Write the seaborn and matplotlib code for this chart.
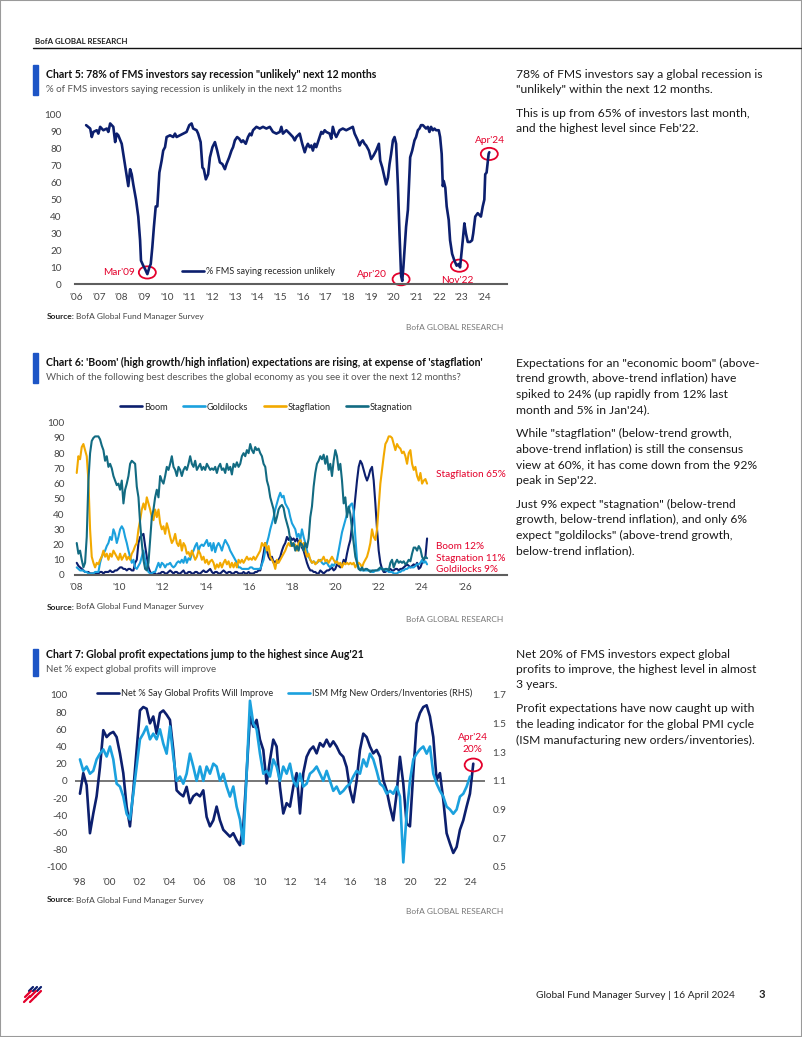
# BofA FMS page recreation: three line charts with commentary column
import numpy as np
import pandas as pd
import matplotlib
matplotlib.use("Agg")
import matplotlib.pyplot as plt
import seaborn as sns
from matplotlib import font_manager
from matplotlib.lines import Line2D
from matplotlib.patches import Ellipse, Rectangle

# ---------------- Chart 5 data: % FMS saying recession unlikely ----------------
rec_dates = [
    2006.44, 2006.62, 2006.69, 2006.76, 2006.91, 2006.98, 2007.06, 2007.20, 2007.35, 2007.42,
    2007.50, 2007.57, 2007.64, 2007.72, 2007.79, 2007.86, 2008.01, 2008.08, 2008.20, 2008.30,
    2008.38, 2008.45, 2008.52, 2008.64, 2008.74, 2008.82, 2008.86, 2008.96, 2009.04, 2009.14,
    2009.23, 2009.29, 2009.36, 2009.43, 2009.51, 2009.58, 2009.67, 2009.77, 2009.84, 2009.92,
    2009.99, 2010.14, 2010.28, 2010.36, 2010.43, 2010.58, 2010.72, 2010.87, 2010.99, 2011.09,
    2011.16, 2011.31, 2011.38, 2011.49, 2011.57, 2011.63, 2011.72, 2011.82, 2011.90, 2012.01,
    2012.12, 2012.22, 2012.34, 2012.45, 2012.56, 2012.63, 2012.75, 2012.85, 2012.92, 2013.00,
    2013.10, 2013.19, 2013.29, 2013.36, 2013.48, 2013.58, 2013.66, 2013.73, 2013.80, 2013.95,
    2014.10, 2014.24, 2014.39, 2014.54, 2014.68, 2014.83, 2014.98, 2015.05, 2015.12, 2015.27,
    2015.42, 2015.56, 2015.64, 2015.71, 2015.86, 2015.97, 2016.08, 2016.15, 2016.22, 2016.30,
    2016.37, 2016.44, 2016.52, 2016.59, 2016.74, 2016.81, 2016.88, 2016.96, 2017.03, 2017.18,
    2017.25, 2017.32, 2017.40, 2017.47, 2017.62, 2017.76, 2017.91, 2018.06, 2018.20, 2018.28,
    2018.35, 2018.42, 2018.50, 2018.57, 2018.64, 2018.72, 2018.79, 2018.91, 2019.01, 2019.11,
    2019.23, 2019.35, 2019.41, 2019.50, 2019.60, 2019.67, 2019.75, 2019.82, 2019.89, 2019.97,
    2020.04, 2020.11, 2020.19, 2020.26, 2020.33, 2020.38, 2020.43, 2020.55, 2020.63, 2020.73,
    2020.82, 2020.92, 2020.99, 2021.07, 2021.14, 2021.21, 2021.29, 2021.36, 2021.43, 2021.51,
    2021.58, 2021.65, 2021.73, 2021.80, 2021.87, 2021.99, 2022.05, 2022.12, 2022.17, 2022.21,
    2022.28, 2022.34, 2022.43, 2022.49, 2022.58, 2022.68, 2022.78, 2022.87, 2022.93, 2022.99,
    2023.05, 2023.12, 2023.19, 2023.27, 2023.37, 2023.46, 2023.51, 2023.60, 2023.71, 2023.78,
    2023.85, 2023.93, 2024.00, 2024.04, 2024.10, 2024.19, 2024.22,
]
rec_values = [
    94, 92, 87, 90, 91, 89, 93, 91, 92, 90,
    95, 94, 93, 84, 89, 88, 83, 77, 67, 58,
    68, 65, 59, 50, 40, 26, 14, 11, 9, 6,
    10, 12, 22, 34, 46, 46, 66, 73, 79, 81,
    87, 88, 87, 89, 87, 88, 89, 90, 94, 95,
    92, 91, 89, 84, 69, 68, 62, 65, 75, 81,
    84, 79, 72, 71, 68, 71, 75, 79, 81, 85,
    87, 86, 84, 85, 83, 87, 89, 88, 91, 93,
    92, 93, 92, 93, 90, 89, 90, 93, 89, 91,
    89, 87, 85, 87, 89, 83, 78, 81, 83, 81,
    82, 79, 83, 81, 87, 90, 89, 91, 90, 89,
    86, 93, 89, 87, 91, 92, 91, 92, 93, 89,
    87, 85, 82, 84, 85, 83, 82, 79, 74, 76,
    79, 83, 73, 69, 63, 59, 63, 71, 77, 85,
    87, 83, 58, 30, 5, 2, 10, 34, 44, 75,
    79, 85, 87, 91, 92, 94, 94, 93, 92, 93,
    90, 93, 91, 92, 91, 91, 87, 77, 58, 61,
    57, 46, 38, 26, 18, 14, 11, 12, 10, 18,
    26, 36, 30, 25, 25, 26, 30, 40, 42, 41,
    40, 46, 50, 65, 66, 77, 78,
]
# label, circle date, circle value, label date, label value, alignment
rec_marks = [
    ("Mar'09", 2009.14, 7, 2008.58, 7, "right"),
    ("Apr'20", 2020.33, 3, 2019.70, 6, "right"),
    ("Nov'22", 2022.90, 11, 2022.80, 2.5, "center"),
    ("Apr'24", 2024.22, 77, 2024.26, 85, "center"),
]

# ---------------- Chart 6 data: macro regime expectations (Jan'08 - Apr'24) ----------------
mix_start, mix_end = 2008.03, 2024.25
boom = [
    8, 6, 5, 4, 3, 2, 2, 2, 1, 1,
    1, 1, 1, 1, 2, 2, 1, 2, 2, 2,
    3, 2, 2, 3, 3, 4, 5, 5, 4, 4,
    3, 4, 4, 3, 3, 8, 10, 21, 25, 26,
    27, 19, 12, 5, 2, 1, 1, 1, 0, 1,
    1, 2, 2, 1, 1, 2, 3, 2, 1, 2,
    2, 1, 1, 2, 3, 1, 1, 2, 2, 1,
    1, 2, 2, 1, 1, 2, 3, 2, 2, 3,
    4, 2, 1, 2, 2, 1, 1, 2, 3, 2,
    1, 2, 2, 1, 1, 2, 2, 1, 1, 1,
    2, 1, 1, 2, 1, 1, 1, 2, 2, 3,
    3, 8, 14, 21, 16, 12, 10, 12, 8, 9,
    8, 10, 12, 16, 19, 21, 25, 23, 25, 23,
    24, 22, 24, 21, 23, 18, 16, 12, 8, 5,
    3, 3, 2, 2, 1, 1, 3, 2, 1, 2,
    3, 3, 4, 5, 3, 4, 7, 6, 5, 6,
    10, 8, 14, 19, 23, 32, 40, 51, 62, 71,
    75, 73, 69, 65, 62, 65, 69, 71, 62, 47,
    30, 16, 8, 4, 2, 2, 3, 3, 4, 3,
    3, 4, 4, 3, 4, 4, 5, 6, 7, 6,
    5, 6, 7, 6, 8, 4, 5, 8, 10, 12, 24,
]
goldilocks = [
    5, 4, 3, 3, 3, 2, 2, 1, 1, 1,
    1, 2, 2, 2, 8, 12, 14, 16, 19, 21,
    25, 23, 30, 27, 21, 25, 30, 32, 30, 25,
    21, 16, 12, 8, 10, 5, 4, 6, 8, 12,
    16, 10, 5, 2, 1, 1, 2, 2, 5, 8,
    5, 8, 7, 5, 7, 7, 8, 6, 5, 6,
    8, 9, 8, 10, 8, 12, 8, 11, 10, 14,
    16, 19, 21, 16, 19, 20, 19, 21, 23, 19,
    21, 16, 21, 15, 19, 21, 19, 16, 20, 23,
    21, 19, 16, 14, 12, 10, 8, 5, 5, 4,
    4, 4, 4, 4, 5, 5, 4, 4, 4, 4,
    4, 7, 10, 16, 21, 25, 30, 34, 38, 43,
    47, 51, 54, 51, 52, 47, 45, 43, 38, 34,
    32, 30, 25, 27, 23, 30, 25, 21, 16, 12,
    10, 8, 9, 8, 8, 9, 10, 8, 7, 8,
    8, 6, 5, 7, 6, 8, 10, 16, 22, 28,
    32, 36, 40, 43, 46, 47, 42, 25, 10, 4,
    4, 3, 3, 3, 3, 3, 3, 2, 2, 3,
    3, 3, 4, 4, 4, 3, 3, 2, 2, 2,
    1, 1, 1, 2, 2, 3, 3, 4, 4, 5,
    5, 5, 5, 6, 7, 7, 8, 10, 8, 9, 7,
]
stagflation = [
    67, 78, 76, 84, 86, 82, 78, 62, 30, 12,
    8, 5, 8, 7, 10, 12, 16, 12, 14, 10,
    14, 12, 16, 14, 12, 10, 14, 10, 12, 14,
    10, 12, 10, 14, 16, 19, 21, 30, 36, 43,
    47, 43, 51, 47, 43, 38, 36, 43, 38, 43,
    34, 30, 32, 27, 34, 30, 25, 21, 23, 27,
    21, 19, 23, 16, 21, 19, 14, 15, 12, 16,
    13, 10, 12, 16, 14, 10, 12, 8, 10, 7,
    9, 10, 8, 4, 7, 5, 8, 5, 8, 10,
    7, 9, 5, 8, 5, 8, 5, 10, 8, 10,
    8, 10, 12, 10, 11, 10, 12, 10, 12, 14,
    16, 21, 19, 21, 16, 19, 12, 10, 8, 4,
    10, 8, 10, 12, 14, 16, 19, 21, 19, 21,
    19, 20, 16, 21, 23, 19, 21, 16, 12, 14,
    10, 8, 9, 7, 8, 10, 9, 10, 12, 9,
    10, 8, 10, 12, 10, 8, 9, 7, 8, 5,
    8, 7, 8, 7, 8, 7, 8, 5, 7, 8,
    7, 5, 8, 10, 12, 16, 21, 30, 25, 23,
    30, 45, 60, 69, 78, 86, 88, 91, 91, 90,
    86, 82, 86, 84, 83, 80, 81, 78, 73, 80,
    82, 73, 69, 71, 65, 62, 67, 60, 62, 63, 60,
]
stagnation = [
    21, 14, 16, 10, 5, 8, 25, 62, 80, 88,
    90, 91, 91, 91, 89, 85, 82, 75, 78, 71,
    73, 70, 65, 62, 59, 60, 56, 62, 47, 56,
    60, 65, 73, 75, 74, 73, 58, 51, 34, 21,
    10, 4, 3, 8, 23, 38, 43, 51, 56, 51,
    65, 62, 60, 65, 71, 69, 73, 78, 71, 69,
    65, 71, 69, 65, 69, 71, 69, 73, 78, 73,
    71, 75, 69, 71, 73, 69, 71, 69, 73, 71,
    69, 70, 69, 71, 67, 71, 73, 69, 70, 67,
    73, 69, 71, 66, 73, 71, 74, 71, 73, 78,
    80, 78, 82, 80, 86, 82, 80, 84, 82, 83,
    80, 78, 73, 71, 62, 58, 51, 47, 43, 34,
    38, 43, 45, 46, 44, 38, 34, 30, 23, 19,
    21, 16, 19, 16, 21, 20, 16, 21, 18, 24,
    38, 45, 58, 67, 73, 75, 78, 76, 79, 73,
    78, 69, 73, 65, 75, 82, 78, 69, 73, 62,
    47, 51, 38, 45, 40, 30, 21, 12, 8, 4,
    3, 5, 3, 4, 4, 3, 2, 3, 3, 3,
    3, 4, 5, 4, 3, 4, 4, 3, 8, 10,
    5, 8, 10, 8, 9, 8, 9, 7, 8, 10,
    9, 14, 18, 18, 16, 19, 17, 12, 10, 12, 11,
]
mix_labels = [("Stagflation 65%", 66), ("Boom 12%", 19), ("Stagnation 11%", 11), ("Goldilocks 9%", 3.5)]

# ---------------- Chart 7 data: net % profits improve vs ISM ratio ----------------
profit_start, profit_end = 1998.04, 2024.22
net_profits = [
    -15, 9, -5, -61, -38, -18, 16, 59, 51, 55,
    57, 51, 32, 9, -30, -53, -11, 36, 82, 86,
    84, 67, 75, 55, 79, 82, 77, 71, 36, -11,
    -15, -18, -7, -26, -18, -15, -18, -11, -42, -53,
    -46, -30, -46, -57, -61, -65, -61, -69, -75, -53,
    9, 75, 63, 71, 48, 36, -3, 24, 48, 40,
    -7, -38, -26, -30, -7, 9, -38, 9, 28, 36,
    40, 32, 44, 40, 48, 40, 46, 40, 32, 28,
    16, -10, -25, 0, 36, 55, 51, 40, 32, 36,
    28, 1, -11, -30, -46, -15, 28, -3, -50, -53,
    9, 67, 79, 86, 88, 75, 51, 1, 9, -22,
    -61, -73, -84, -77, -57, -46, -30, -15, 20,
]
ism_start, ism_end = 1998.04, 2024.0
ism_ratio = [
    1.25, 1.17, 1.20, 1.15, 1.17, 1.25, 1.29, 1.32, 1.27, 1.34,
    1.25, 1.08, 1.06, 0.99, 0.87, 0.83, 1.01, 1.20, 1.39, 1.43,
    1.48, 1.39, 1.43, 1.39, 1.46, 1.36, 1.29, 1.48, 1.27, 1.10,
    1.13, 1.08, 1.15, 1.29, 1.20, 1.10, 1.20, 1.10, 1.20, 1.15,
    1.22, 1.20, 1.10, 1.15, 1.06, 0.99, 1.06, 0.92, 0.83, 0.66,
    1.15, 1.66, 1.50, 1.46, 1.29, 1.15, 1.17, 1.13, 1.25, 1.20,
    1.10, 1.20, 1.15, 1.22, 1.10, 1.06, 1.15, 1.06, 1.08, 1.15,
    1.17, 1.20, 1.15, 1.10, 1.17, 1.10, 1.03, 1.06, 1.01, 1.03,
    1.06, 1.08, 1.13, 1.17, 1.15, 1.25, 1.20, 1.29, 1.25, 1.17,
    1.08, 1.06, 1.01, 1.03, 1.01, 1.06, 0.99, 0.53, 0.87, 1.10,
    1.25, 1.29, 1.32, 1.34, 1.29, 1.34, 1.15, 1.08, 1.03, 0.99,
    0.92, 0.90, 0.87, 0.90, 0.99, 1.01, 1.06, 1.13,
]

# ---------------- page text ----------------
notes5 = [
    ['78% of FMS investors say a global recession is', '"unlikely" within the next 12 months.'],
    ['This is up from 65% of investors last month,', "and the highest level since Feb'22."],
]
notes6 = [
    ['Expectations for an "economic boom" (above-', 'trend growth, above-trend inflation) have',
     'spiked to 24% (up rapidly from 12% last', "month and 5% in Jan'24)."],
    ['While "stagflation" (below-trend growth,', 'above-trend inflation) is still the consensus',
     'view at 60%, it has come down from the 92%', "peak in Sep'22."],
    ['Just 9% expect "stagnation" (below-trend', 'growth, below-trend inflation), and only 6%',
     'expect "goldilocks" (above-trend growth,', 'below-trend inflation).'],
]
notes7 = [
    ['Net 20% of FMS investors expect global', 'profits to improve, the highest level in almost', '3 years.'],
    ['Profit expectations have now caught up with', 'the leading indicator for the global PMI cycle',
     '(ISM manufacturing new orders/inventories).'],
]

NAVY = "#0c1f6e"
LIGHT = "#1ba1de"
GOLD = "#f2a900"
TEAL = "#126b82"
RED = "#e4002b"
BAR = "#1d55c6"
TICK = "#444444"

W, H = 802, 1037


def fx(px):
    return px / W


def fy(py):
    return 1 - py / H


def yr_labels(years):
    return [f"'{y % 100:02d}" for y in years]


def style_axes(ax, ypad, bottom=True):
    ax.set_facecolor("none")
    for s in ["top", "right", "left"]:
        ax.spines[s].set_visible(False)
    ax.spines["bottom"].set_visible(bottom)
    ax.spines["bottom"].set_color("#5e5e5e")
    ax.spines["bottom"].set_linewidth(1.5)
    ax.tick_params(axis="both", length=0, labelsize=7.2, colors=TICK)
    ax.tick_params(axis="y", pad=ypad)
    ax.tick_params(axis="x", pad=6)
    ax.set_xlabel("")
    ax.set_ylabel("")
    ax.grid(False)


def main():
    sns.set_theme(style="white")
    installed = {f.name for f in font_manager.fontManager.ttflist}
    main_font = "Lato" if "Lato" in installed else "DejaVu Sans"
    plt.rcParams["font.family"] = [main_font, "DejaVu Sans"]
    plt.rcParams["axes.unicode_minus"] = False

    fig = plt.figure(figsize=(W / 100, H / 100), dpi=100)
    renderer = fig.canvas.get_renderer()

    def add_axes(x0, y0, x1, y1):
        return fig.add_axes([fx(x0), fy(y1), (x1 - x0) / W, (y1 - y0) / H])

    # page frame, header, footer
    fig.patches.append(Rectangle((0, 0), 1, 1, transform=fig.transFigure, fill=False,
                                 edgecolor="#9a9a9a", lw=1.5))
    fig.text(fx(35), fy(41), "BofA GLOBAL RESEARCH", fontsize=5.7, fontweight="bold",
             color="#222222", va="center")
    fig.add_artist(Line2D([fx(33), fx(801)], [fy(48), fy(48)], transform=fig.transFigure,
                          color="#111111", lw=1))
    fig.text(fx(735), fy(995), "Global Fund Manager Survey | 16 April 2024", fontsize=7.3,
             color="#222222", ha="right", va="center")
    fig.text(fx(762), fy(995), "3", fontsize=8, fontweight="bold", color="#222222",
             ha="center", va="center")
    for x0, y0, x1, y1, c in [(29, 991, 33, 987, NAVY), (33, 991, 37, 987, NAVY),
                              (37, 991, 41, 987, NAVY), (25, 997, 31, 991, RED),
                              (30, 997, 36, 991, RED), (35, 997, 41, 991, RED),
                              (24, 1002, 30, 996, RED), (30, 1002, 36, 996, RED)]:
        fig.add_artist(Line2D([fx(x0), fx(x1)], [fy(y0), fy(y1)], transform=fig.transFigure,
                              color=c, lw=1.6, solid_capstyle="round"))

    def chart_header(bar0, bar1, ytitle, ysub, title, subtitle):
        fig.patches.append(Rectangle((fx(33), fy(bar1)), 5 / W, (bar1 - bar0) / H,
                                     transform=fig.transFigure, color=BAR))
        fig.text(fx(46), fy(ytitle), title, fontsize=7.6, fontweight="bold",
                 color="#111111", va="center")
        fig.text(fx(46), fy(ysub), subtitle, fontsize=7.0, color="#555555", va="center")

    def chart_footer(ysrc, yres):
        src = fig.text(fx(47), fy(ysrc), "Source:", fontsize=6, fontweight="bold",
                       color="#222222", va="center")
        x_end = src.get_window_extent(renderer).x1
        fig.text(x_end / W + 1.5 / W, fy(ysrc), "BofA Global Fund Manager Survey", fontsize=6,
                 color="#444444", va="center")
        fig.text(fx(503), fy(yres), "BofA GLOBAL RESEARCH", fontsize=6, color="#777777",
                 ha="right", va="center")

    def notes(ystart, paras):
        y = ystart
        for para in paras:
            for line in para:
                fig.text(fx(516), fy(y), line, fontsize=8.7, color="#1a1a1a", va="center")
                y += 15.5
            y += 8.5

    legend_kw = dict(frameon=False, fontsize=6.6, handlelength=2.4, handletextpad=0.2,
                     borderpad=0, borderaxespad=0, loc="center left")

    # ---------------- Chart 5 ----------------
    chart_header(65, 95, 74, 89,
                 'Chart 5: 78% of FMS investors say recession "unlikely" next 12 months',
                 "% of FMS investors saying recession is unlikely in the next 12 months")
    ax5 = add_axes(75, 115, 507, 284.3)
    sns.lineplot(x=rec_dates, y=rec_values, ax=ax5, color=NAVY, linewidth=1.9)
    ax5.set_xlim(2005.95, 2025.0)
    ax5.set_ylim(0, 100)
    ax5.set_yticks(range(0, 101, 10))
    ax5.set_xticks(range(2006, 2025))
    ax5.set_xticklabels(yr_labels(range(2006, 2025)))
    style_axes(ax5, ypad=9.5)
    for label, cx, cy, tx, ty, ha in rec_marks:
        ax5.add_patch(Ellipse((cx, cy), 0.75, 7.2, fill=False, edgecolor=RED, lw=1.3,
                              clip_on=False))
        ax5.text(tx, ty, label, color=RED, fontsize=7.3, ha=ha, va="center", clip_on=False)
    ax5.legend(handles=[Line2D([], [], color=NAVY, lw=1.9)],
               labels=["% FMS saying recession unlikely"],
               bbox_to_anchor=(0.248, 0.073), **legend_kw)
    notes(74, notes5)
    chart_footer(316, 327)

    # ---------------- Chart 6 ----------------
    chart_header(353, 383, 362, 377,
                 "Chart 6: 'Boom' (high growth/high inflation) expectations are rising, at expense of 'stagflation'",
                 "Which of the following best describes the global economy as you see it over the next 12 months?")
    ax6 = add_axes(75, 422.7, 507, 575)
    mix = pd.DataFrame({
        "date": np.linspace(mix_start, mix_end, len(boom)),
        "Boom": boom, "Goldilocks": goldilocks,
        "Stagflation": stagflation, "Stagnation": stagnation,
    })
    mix_long = mix.melt(id_vars="date", var_name="view", value_name="pct")
    palette = {"Boom": NAVY, "Goldilocks": LIGHT, "Stagflation": GOLD, "Stagnation": TEAL}
    order = ["Boom", "Goldilocks", "Stagflation", "Stagnation"]
    sns.lineplot(data=mix_long, x="date", y="pct", hue="view", hue_order=order,
                 palette=palette, linewidth=1.5, legend=False, ax=ax6)
    ax6.set_xlim(2007.95, 2027.95)
    ax6.set_ylim(0, 100)
    ax6.set_yticks(range(0, 101, 10))
    ax6.set_xticks(range(2008, 2027, 2))
    ax6.set_xticklabels(yr_labels(range(2008, 2027, 2)))
    style_axes(ax6, ypad=7.5)
    for text, val in mix_labels:
        ax6.text(2024.66, val, text, color=RED, fontsize=7.2, ha="left", va="center",
                 clip_on=False)
    ax6.legend(handles=[Line2D([], [], color=palette[k], lw=1.9) for k in order],
               labels=order, bbox_to_anchor=(0.104, 1.103), ncol=4, columnspacing=1.7,
               **legend_kw)
    notes(363, notes6)
    chart_footer(607, 619)

    # ---------------- Chart 7 ----------------
    chart_header(649, 676, 655, 669,
                 "Chart 7: Global profit expectations jump to the highest since Aug'21",
                 "Net % expect global profits will improve")
    ax7 = add_axes(75, 695, 485, 866.7)
    ax7b = ax7.twinx()
    ax7.axhline(0, color="#6b6b6b", lw=1.3, zorder=1)
    sns.lineplot(x=np.linspace(profit_start, profit_end, len(net_profits)), y=net_profits,
                 ax=ax7, color=NAVY, linewidth=1.9)
    sns.lineplot(x=np.linspace(ism_start, ism_end, len(ism_ratio)), y=ism_ratio,
                 ax=ax7b, color=LIGHT, linewidth=1.9)
    for a in (ax7, ax7b):
        a.set_xlim(1997.71, 2025.0)
    ax7.set_ylim(-100, 100)
    ax7.set_yticks(range(-100, 101, 20))
    ax7b.set_ylim(0.5, 1.7)
    ax7b.set_yticks([0.5, 0.7, 0.9, 1.1, 1.3, 1.5, 1.7])
    ax7b.set_yticklabels(["0.5", "0.7", "0.9", "1.1", "1.3", "1.5", "1.7"])
    ax7.set_xticks(range(1998, 2025, 2))
    ax7.set_xticklabels(yr_labels(range(1998, 2025, 2)))
    style_axes(ax7, ypad=5.5, bottom=False)
    style_axes(ax7b, ypad=5.5, bottom=False)
    ax7.tick_params(axis="x", pad=8)
    ax7.add_patch(Ellipse((2024.22, 18.5), 1.15, 15, fill=False, edgecolor=RED, lw=1.3,
                          clip_on=False, zorder=5))
    ax7.text(2024.18, 50, "Apr'24", color=RED, fontsize=7.3, ha="center", va="center")
    ax7.text(2024.18, 36.5, "20%", color=RED, fontsize=7.3, ha="center", va="center")
    ax7.legend(handles=[Line2D([], [], color=NAVY, lw=1.9), Line2D([], [], color=LIGHT, lw=1.9)],
               labels=["Net % Say Global Profits Will Improve",
                       "ISM Mfg New Orders/Inventories (RHS)"],
               bbox_to_anchor=(0.054, 1.012), ncol=2, columnspacing=1.6, **legend_kw)
    notes(654, notes7)
    chart_footer(900, 912)

    fig.savefig("out.png", dpi=100)


if __name__ == "__main__":
    main()
